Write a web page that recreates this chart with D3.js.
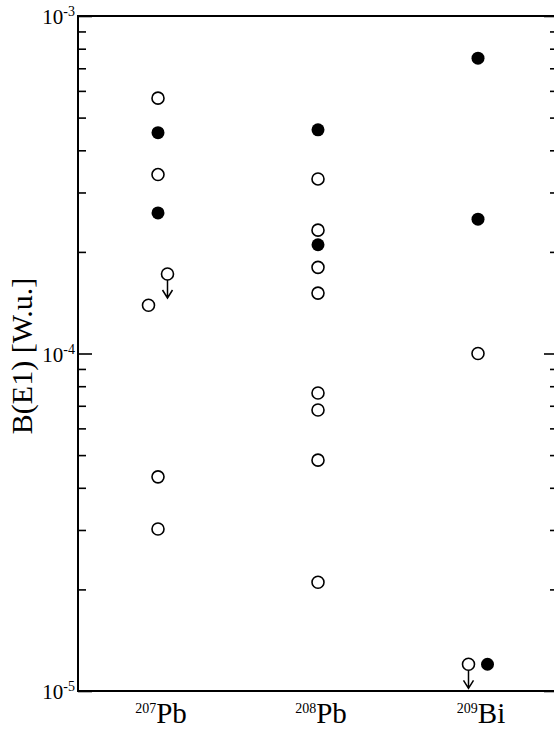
<!DOCTYPE html>
<html>
<head>
<meta charset="utf-8">
<script src="https://cdn.jsdelivr.net/npm/d3@7"></script>
<style>
  body { margin: 0; background: #fff; }
  text { font-family: "Liberation Serif", "Times New Roman", serif; fill: #000; }
</style>
</head>
<body>
<svg id="chart" width="554" height="729"></svg>
<script>
// isotopes (axe x)
const isotopes = ["207Pb", "208Pb", "209Bi"];
const massNumbers = ["207", "208", "209"];
const elements = ["Pb", "Pb", "Bi"];

// B(E1) en W.u.
const pb207Open = [5.71e-4, 3.39e-4, 4.31e-5, 3.02e-5];
const pb207Filled = [4.51e-4, 2.61e-4];
const pb208Open = [3.29e-4, 2.32e-4, 1.80e-4, 1.51e-4, 7.64e-5, 6.8e-5, 4.83e-5, 2.10e-5];
const pb208Filled = [4.60e-4, 2.10e-4];
const bi209Open = [1.0e-4];
const bi209Filled = [7.5e-4, 2.5e-4];

// points décalés (paires) : side -1 = gauche, 1 = droite
const pairedPoints = [
  {iso: "207Pb", value: 1.39e-4, filled: false, upper: false, side: -1},
  {iso: "207Pb", value: 1.72e-4, filled: false, upper: true, side: 1},
  {iso: "209Bi", value: 1.2e-5, filled: false, upper: true, side: -1},
  {iso: "209Bi", value: 1.2e-5, filled: true, upper: false, side: 1}
];

const yTickExponents = [-3, -4, -5];

// tableau de points
let points = [];
function addPoints(iso, arr, filled) {
  arr.forEach(v => points.push({iso: iso, value: v, filled: filled, upper: false, side: 0}));
}
addPoints("207Pb", pb207Open, false);
addPoints("207Pb", pb207Filled, true);
addPoints("208Pb", pb208Open, false);
addPoints("208Pb", pb208Filled, true);
addPoints("209Bi", bi209Open, false);
addPoints("209Bi", bi209Filled, true);
points = points.concat(pairedPoints);

const svg = d3.select("#chart");
const plotLeft = 78, plotRight = 558, plotTop = 16, plotBottom = 691;

const x = d3.scalePoint().domain(isotopes).range([plotLeft, plotRight]).padding(0.5);
const y = d3.scaleLog().domain([1e-5, 1e-3]).range([plotBottom, plotTop]);

const majors = yTickExponents.map(e => Math.pow(10, e));
const minors = y.ticks().filter(t => !majors.some(m => Math.abs(m - t) / m < 1e-6));

// graduations (gauche et droite)
function drawTicks(axisFn, xPos) {
  const gMaj = svg.append("g").attr("transform", `translate(${xPos},0)`)
    .call(axisFn(y).tickValues(majors).tickSize(14).tickFormat(""));
  const gMin = svg.append("g").attr("transform", `translate(${xPos},0)`)
    .call(axisFn(y).tickValues(minors).tickSize(8).tickFormat(""));
  [gMaj, gMin].forEach(g => {
    g.select(".domain").remove();
    g.selectAll("line").attr("stroke", "#000").attr("stroke-width", 1.6);
  });
}
drawTicks(d3.axisRight, plotLeft);
drawTicks(d3.axisLeft, plotRight);

// cadre
svg.append("rect")
  .attr("x", plotLeft).attr("y", plotTop)
  .attr("width", plotRight - plotLeft).attr("height", plotBottom - plotTop)
  .attr("fill", "none").attr("stroke", "#000").attr("stroke-width", 2);

// étiquettes de l'axe y
yTickExponents.forEach(e => {
  const t = svg.append("text")
    .attr("x", plotLeft - 3)
    .attr("y", y(Math.pow(10, e)) + 8)
    .attr("text-anchor", "end")
    .style("font-size", "21px");
  t.append("tspan").text("10");
  t.append("tspan").attr("dy", -8).style("font-size", "14px").text(e);
});

// titre de l'axe y
svg.append("text")
  .attr("transform", "translate(32,356) rotate(-90)")
  .attr("text-anchor", "middle")
  .style("font-size", "30px")
  .text("B(E1) [W.u.]");

// étiquettes de l'axe x
isotopes.forEach((iso, i) => {
  const t = svg.append("text")
    .attr("x", x(iso) + 3)
    .attr("y", 723)
    .attr("text-anchor", "middle")
    .style("font-size", "29px");
  t.append("tspan").attr("dy", -10).style("font-size", "14px").text(massNumbers[i]);
  t.append("tspan").attr("dy", 10).text(elements[i]);
});

// points
const r = 6;
const px = d => x(d.iso) + d.side * 9.5;

svg.append("g").selectAll("path.arrow")
  .data(points.filter(d => d.upper))
  .enter()
  .append("path")
  .attr("class", "arrow")
  .attr("d", d => {
    const cx = px(d), cy = y(d.value);
    const tip = cy + 24;
    return `M${cx},${cy + r}L${cx},${tip}M${cx - 5},${tip - 8}L${cx},${tip}L${cx + 5},${tip - 8}`;
  })
  .attr("fill", "none")
  .attr("stroke", "#000")
  .attr("stroke-width", 1.5);

svg.append("g").selectAll("circle")
  .data(points)
  .enter()
  .append("circle")
  .attr("cx", d => px(d))
  .attr("cy", d => y(d.value))
  .attr("r", d => d.filled ? 6.5 : r)
  .attr("fill", d => d.filled ? "#000" : "#fff")
  .attr("stroke", "#000")
  .attr("stroke-width", d => d.filled ? 0 : 1.6);
</script>
</body>
</html>
